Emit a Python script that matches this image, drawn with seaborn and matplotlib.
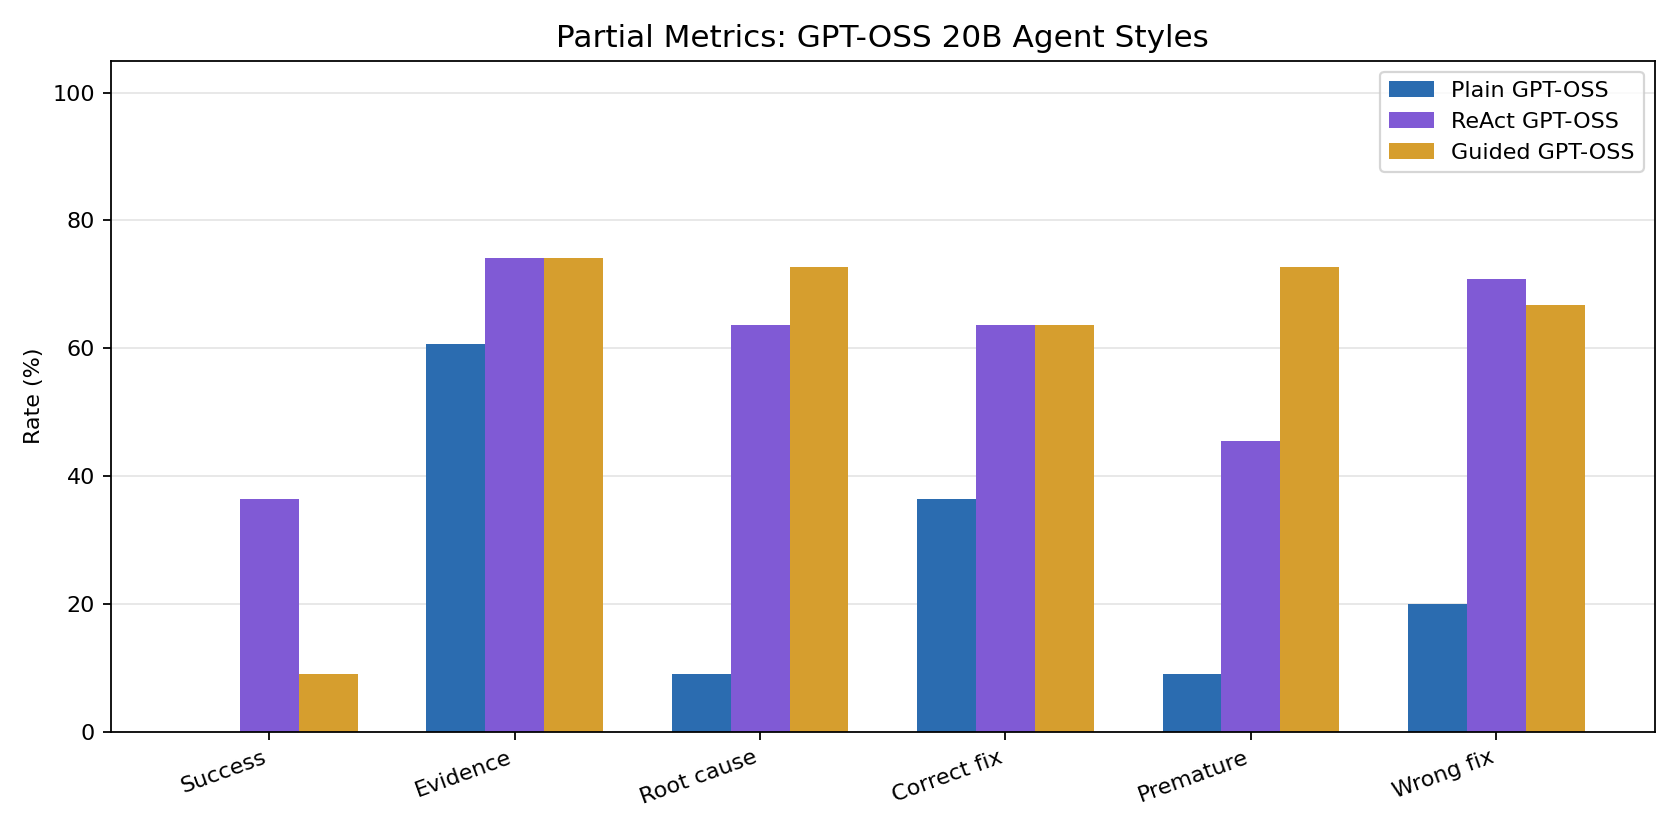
import numpy as np
import pandas as pd
import matplotlib
matplotlib.use('Agg')
from matplotlib import pyplot as plt
import seaborn as sns

# values
categories = ['Success', 'Evidence', 'Root cause', 'Correct fix', 'Premature', 'Wrong fix']
styles = ['Plain GPT-OSS', 'ReAct GPT-OSS', 'Guided GPT-OSS']
plain = [0.0, 60.6, 9.1, 36.4, 9.1, 20.0]
react = [36.4, 74.2, 63.6, 63.6, 45.5, 70.8]
guided = [9.1, 74.2, 72.7, 63.6, 72.7, 66.7]
colors = ['#2b6cb0', '#805ad5', '#d69e2e']


def MakeFrame():
    rows = []
    for style, vals in zip(styles, [plain, react, guided]):
        for cat, v in zip(categories, vals):
            rows.append({'Metric': cat, 'Style': style, 'Rate': v})
    return pd.DataFrame(rows)


def MakePlot(pd_data):
    fig, ax = plt.subplots(figsize=(10.5, 5.2), dpi=160)
    sns.barplot(data=pd_data, x='Metric', y='Rate', hue='Style',
                order=categories, hue_order=styles, palette=colors,
                width=0.72, gap=0, saturation=1, errorbar=None, ax=ax)
    ax.set_axisbelow(True)
    ax.yaxis.grid(True, color='#e6e6e6', linewidth=0.8)
    ax.xaxis.grid(False)
    ax.set_ylim(0, 105)
    ax.set_xlim(-0.646, 5.646)
    ax.set_xlabel('')
    ax.set_ylabel('Rate (%)')
    ax.set_title('Partial Metrics: GPT-OSS 20B Agent Styles', fontsize=14)
    plt.setp(ax.get_xticklabels(), rotation=20, ha='right')
    ax.legend(loc='upper right', title=None)
    fig.subplots_adjust(left=0.0659, right=0.985, top=0.927, bottom=0.1205)
    plt.savefig('out.png', dpi=160)


def main():
    MakePlot(MakeFrame())


if __name__ == '__main__':
    main()
